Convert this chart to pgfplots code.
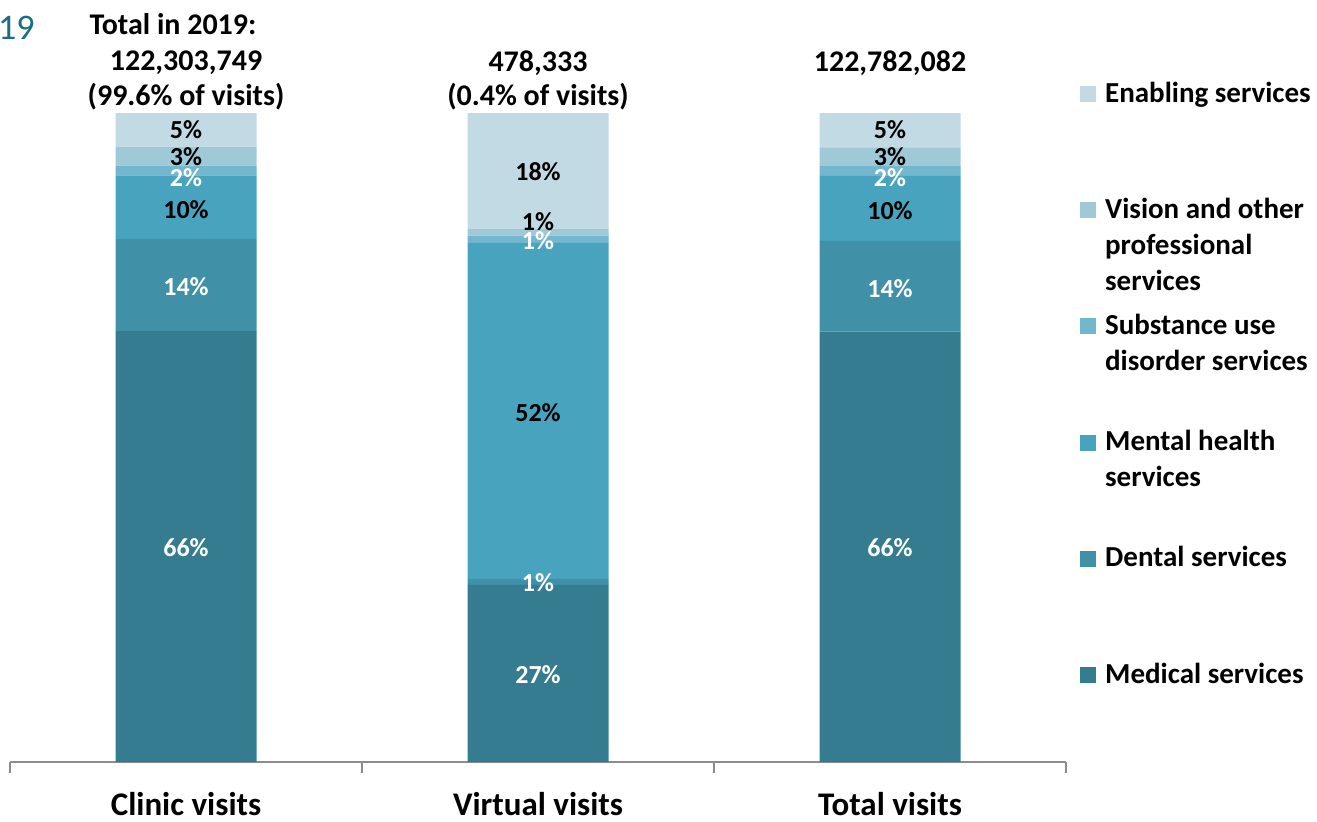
\documentclass[border=0pt]{standalone}
\usepackage{pgfplots}
\pgfplotsset{compat=1.18}
\usepackage{pgfplotstable}
\usepackage{fontspec}
\setmainfont{Carlito}
\definecolor{cMed}{HTML}{367C91}
\definecolor{cDen}{HTML}{4090A8}
\definecolor{cMen}{HTML}{48A4BE}
\definecolor{cSub}{HTML}{72B7CD}
\definecolor{cVis}{HTML}{A0C9D8}
\definecolor{cEna}{HTML}{C2DAE3}
\definecolor{lineGray}{HTML}{8C8C8C}
\definecolor{titleTeal}{HTML}{1B6D86}

\pgfplotstableread{
x med den men sub vis ena
0 66.4 14.2 9.8 1.5 2.9 5.2
1 27.3 0.9 51.8 1.1 1.1 17.8
2 66.3 14.0 10.0 1.5 2.9 5.3
}\visits

\pgfplotstableread{
x y lab
0 33.0 66\%
0 73.2 14\%
0 90.1 2\%
1 13.4 27\%
1 27.6 1\%
1 80.4 1\%
2 33.0 66\%
2 73.0 14\%
2 90.1 2\%
}\whitelabels

\pgfplotstableread{
x y lab
0 85.05 10\%
0 93.2 3\%
0 97.4 5\%
1 53.9 52\%
1 83.2 1\%
1 90.9 18\%
2 84.9 10\%
2 93.2 3\%
2 97.4 5\%
}\blacklabels

\newcommand{\ent}[1]{\parbox[t]{125pt}{\rule{0pt}{11pt}#1}}

\begin{document}
\begin{tikzpicture}
\useasboundingbox (-5pt,-29.5pt) rectangle (653.5pt,381pt);
\begin{axis}[
  at={(0pt,0pt)}, anchor=south west,
  scale only axis, width=528pt, height=324.5pt,
  xmin=-0.5, xmax=2.5, ymin=0, ymax=100,
  ybar stacked, bar width=70.5pt,
  axis x line*=bottom, axis y line=none,
  xtick={0,1,2}, xticklabels={Clinic visits,Virtual visits,Total visits},
  major x tick style={draw=none},
  minor xtick={-0.5,0.5,1.5,2.5},
  minor tick length=5.5pt,
  tick align=outside,
  x axis line style={draw=lineGray, line width=0.75pt},
  minor x tick style={draw=lineGray, line width=0.75pt},
  xticklabel style={font=\fontsize{16.5}{20}\selectfont\bfseries, anchor=base, yshift=-22.5pt},
  clip=false,
  reverse legend,
  legend style={draw=none, fill=none, inner sep=0pt, outer sep=0pt,
    row sep=41.6pt, column sep=0pt,
    cells={anchor=base west, inner sep=0pt, text height=11pt, text depth=47.2pt},
    font=\fontsize{14.5}{18}\selectfont\bfseries,
    at={(rel axis cs:1.0134,1.057)}, anchor=north west},
  legend image code/.code={\fill[#1] (0pt,0pt) rectangle (8pt,8pt); \path (10.5pt,0pt);},
]
\addplot[fill=cMed, draw=none] table[x=x, y=med]{\visits};
\addlegendentry{\ent{Medical services}}
\addplot[fill=cDen, draw=none] table[x=x, y=den]{\visits};
\addlegendentry{\ent{Dental services}}
\addplot[fill=cMen, draw=none] table[x=x, y=men]{\visits};
\addlegendentry{\ent{Mental health\\services}}
\addplot[fill=cSub, draw=none] table[x=x, y=sub]{\visits};
\addlegendentry{\ent{Substance use\\disorder services}}
\addplot[fill=cVis, draw=none] table[x=x, y=vis]{\visits};
\addlegendentry{\ent{Vision and other\\professional\\services}}
\addplot[fill=cEna, draw=none] table[x=x, y=ena]{\visits};
\addlegendentry{\ent{Enabling services}}
\end{axis}

\begin{axis}[
  at={(0pt,0pt)}, anchor=south west,
  scale only axis, width=528pt, height=324.5pt,
  xmin=-0.5, xmax=2.5, ymin=0, ymax=100,
  hide axis, clip=false,
  nodes near coords, point meta=explicit symbolic,
  every node near coord/.append style={anchor=center, inner sep=0pt,
    font=\fontsize{13}{15}\selectfont\bfseries},
]
\addplot[only marks, mark=none, draw=none, color=white] table[x=x, y=y, meta=lab]{\whitelabels};
\addplot[only marks, mark=none, draw=none, color=black] table[x=x, y=y, meta=lab]{\blacklabels};
\begin{scope}[every node/.style={font=\fontsize{15}{18}\selectfont\bfseries, inner sep=0pt}]
\node at (axis cs:-0.037,113.7) {Total in 2019:};
\node at (axis cs:0,107.7) {122,303,749};
\node at (axis cs:0,102.5) {(99.6\% of visits)};
\node at (axis cs:1,107.7) {478,333};
\node at (axis cs:1,102.5) {(0.4\% of visits)};
\node at (axis cs:2,107.7) {122,782,082};
\end{scope}
\end{axis}
\node[anchor=base east, inner sep=0pt, font=\fontsize{18}{20}\selectfont, text=titleTeal] at (12.5pt,361pt) {19};
\end{tikzpicture}
\end{document}
